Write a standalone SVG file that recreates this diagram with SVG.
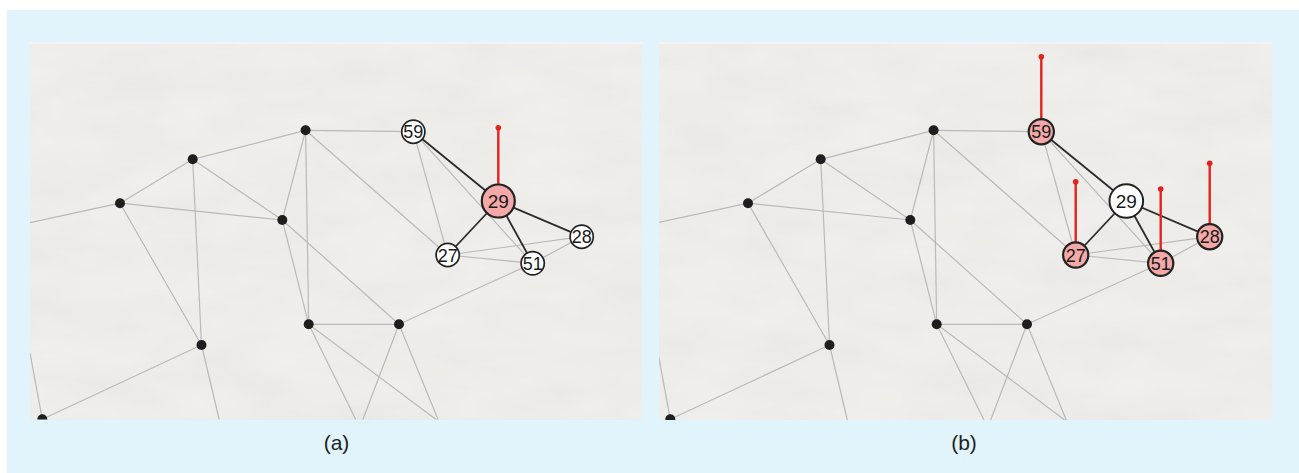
<svg xmlns="http://www.w3.org/2000/svg" width="1299" height="473" viewBox="0 0 1299 473">
<style>
.g{stroke:#b9b9b9;stroke-width:1.2;fill:none}
.k{stroke:#2a2a2a;stroke-width:1.8;fill:none}
.r{stroke:#e3231c;stroke-width:2.4;fill:none}
.rd{fill:#e3231c}
.dot{fill:#1e1e1e}
.w{fill:#ffffff;stroke:#222;stroke-width:1.7}
.p{fill:#f4a9a8;stroke:#222;stroke-width:2.2}
.bw{fill:#ffffff;stroke:#222;stroke-width:2}
.bp{fill:#f4a9a8;stroke:#222;stroke-width:2.2}
.t{font-family:"Liberation Sans",Arial,sans-serif;font-size:18px;fill:#1a1a1a;text-anchor:middle}
.tb{font-family:"Liberation Sans",Arial,sans-serif;font-size:19px;fill:#1a1a1a;text-anchor:middle}
.cap{font-family:"Liberation Sans",Arial,sans-serif;font-size:21px;fill:#222;text-anchor:middle}
.panel{fill:#f1f0ed}
</style>
<defs>
<clipPath id="clipA" clipPathUnits="userSpaceOnUse"><rect x="30" y="42.5" width="612" height="377"/></clipPath>
<clipPath id="clipB" clipPathUnits="userSpaceOnUse"><rect x="31" y="42.5" width="613" height="377.5"/></clipPath>
<filter id="paper" x="0" y="0" width="100%" height="100%">
<feTurbulence type="fractalNoise" baseFrequency="0.012 0.03" numOctaves="3" seed="4"/>
<feColorMatrix type="saturate" values="0"/>
<feComponentTransfer><feFuncA type="linear" slope="0" intercept="0.07"/></feComponentTransfer>
</filter>
</defs>
<rect x="0" y="0" width="1299" height="473" fill="#ffffff"/>
<rect x="7" y="10" width="1292" height="463" fill="#e1f3fb"/>
<g id="panel-a">
<rect class="panel" x="30" y="42.5" width="612" height="377"/>
<rect x="30" y="42.5" width="612" height="377" filter="url(#paper)"/>
<line x1="30" y1="43" x2="642" y2="43" stroke="#fbfbfb" stroke-width="1.2"/>
</g>
<g id="panel-b">
<rect class="panel" x="659" y="42.5" width="613" height="377.5"/>
<rect x="659" y="42.5" width="613" height="377.5" filter="url(#paper)"/>
<line x1="659" y1="43" x2="1272" y2="43" stroke="#fbfbfb" stroke-width="1.2"/>
</g>
<g id="connectors">
<g id="connectors-a" clip-path="url(#clipA)">
<line class="g" x1="30" y1="222.7" x2="120" y2="203.2"/>
<line class="g" x1="120" y1="203.2" x2="192.7" y2="159.3"/>
<line class="g" x1="192.7" y1="159.3" x2="305.6" y2="130.3"/>
<line class="g" x1="305.6" y1="130.3" x2="413.3" y2="131.7"/>
<line class="g" x1="120" y1="203.2" x2="282.3" y2="220"/>
<line class="g" x1="192.7" y1="159.3" x2="282.3" y2="220"/>
<line class="g" x1="192.7" y1="159.3" x2="201.5" y2="345"/>
<line class="g" x1="120" y1="203.2" x2="201.5" y2="345"/>
<line class="g" x1="305.6" y1="130.3" x2="282.3" y2="220"/>
<line class="g" x1="305.6" y1="130.3" x2="308.7" y2="324.3"/>
<line class="g" x1="305.6" y1="130.3" x2="447.7" y2="255"/>
<line class="g" x1="282.3" y1="220" x2="308.7" y2="324.3"/>
<line class="g" x1="282.3" y1="220" x2="399" y2="324.3"/>
<line class="g" x1="308.7" y1="324.3" x2="399" y2="324.3"/>
<line class="g" x1="399" y1="324.3" x2="532.7" y2="263.3"/>
<line class="g" x1="201.5" y1="345" x2="42.3" y2="419.3"/>
<line class="g" x1="201.5" y1="345" x2="219.3" y2="420"/>
<line class="g" x1="30" y1="353" x2="42.3" y2="419.3"/>
<line class="g" x1="308.7" y1="324.3" x2="356" y2="420"/>
<line class="g" x1="308.7" y1="324.3" x2="436.7" y2="420"/>
<line class="g" x1="399" y1="324.3" x2="362.7" y2="420"/>
<line class="g" x1="399" y1="324.3" x2="438.3" y2="420"/>
<line class="g" x1="413.3" y1="131.7" x2="447.7" y2="255"/>
<line class="g" x1="413.3" y1="131.7" x2="532.7" y2="263.3"/>
<line class="g" x1="447.7" y1="255" x2="581.7" y2="236.7"/>
<line class="g" x1="447.7" y1="255" x2="532.7" y2="263.3"/>
<line class="g" x1="532.7" y1="263.3" x2="581.7" y2="236.7"/>
<line class="k" x1="413.3" y1="131.7" x2="498.3" y2="201"/>
<line class="k" x1="498.3" y1="201" x2="447.7" y2="255"/>
<line class="k" x1="498.3" y1="201" x2="532.7" y2="263.3"/>
<line class="k" x1="498.3" y1="201" x2="581.7" y2="236.7"/>
<line class="r" x1="498.3" y1="201" x2="498.3" y2="127.7"/>
<circle class="rd" cx="498.3" cy="127.7" r="2.8"/>
</g>
<g id="connectors-b" transform="translate(628,0)" clip-path="url(#clipB)">
<line class="g" x1="30" y1="222.7" x2="120" y2="203.2"/>
<line class="g" x1="120" y1="203.2" x2="192.7" y2="159.3"/>
<line class="g" x1="192.7" y1="159.3" x2="305.6" y2="130.3"/>
<line class="g" x1="305.6" y1="130.3" x2="413.3" y2="131.7"/>
<line class="g" x1="120" y1="203.2" x2="282.3" y2="220"/>
<line class="g" x1="192.7" y1="159.3" x2="282.3" y2="220"/>
<line class="g" x1="192.7" y1="159.3" x2="201.5" y2="345"/>
<line class="g" x1="120" y1="203.2" x2="201.5" y2="345"/>
<line class="g" x1="305.6" y1="130.3" x2="282.3" y2="220"/>
<line class="g" x1="305.6" y1="130.3" x2="308.7" y2="324.3"/>
<line class="g" x1="305.6" y1="130.3" x2="447.7" y2="255"/>
<line class="g" x1="282.3" y1="220" x2="308.7" y2="324.3"/>
<line class="g" x1="282.3" y1="220" x2="399" y2="324.3"/>
<line class="g" x1="308.7" y1="324.3" x2="399" y2="324.3"/>
<line class="g" x1="399" y1="324.3" x2="532.7" y2="263.3"/>
<line class="g" x1="201.5" y1="345" x2="42.3" y2="419.3"/>
<line class="g" x1="201.5" y1="345" x2="219.3" y2="420"/>
<line class="g" x1="30" y1="353" x2="42.3" y2="419.3"/>
<line class="g" x1="308.7" y1="324.3" x2="356" y2="420"/>
<line class="g" x1="308.7" y1="324.3" x2="436.7" y2="420"/>
<line class="g" x1="399" y1="324.3" x2="362.7" y2="420"/>
<line class="g" x1="399" y1="324.3" x2="438.3" y2="420"/>
<line class="g" x1="413.3" y1="131.7" x2="447.7" y2="255"/>
<line class="g" x1="413.3" y1="131.7" x2="532.7" y2="263.3"/>
<line class="g" x1="447.7" y1="255" x2="581.7" y2="236.7"/>
<line class="g" x1="447.7" y1="255" x2="532.7" y2="263.3"/>
<line class="g" x1="532.7" y1="263.3" x2="581.7" y2="236.7"/>
<line class="k" x1="413.3" y1="131.7" x2="498.3" y2="201"/>
<line class="k" x1="498.3" y1="201" x2="447.7" y2="255"/>
<line class="k" x1="498.3" y1="201" x2="532.7" y2="263.3"/>
<line class="k" x1="498.3" y1="201" x2="581.7" y2="236.7"/>
<line class="r" x1="413.3" y1="131.7" x2="413.3" y2="56.7"/>
<circle class="rd" cx="413.3" cy="56.7" r="2.8"/>
<line class="r" x1="447.7" y1="255" x2="447.7" y2="181.7"/>
<circle class="rd" cx="447.7" cy="181.7" r="2.8"/>
<line class="r" x1="532.7" y1="263.3" x2="532.7" y2="189"/>
<circle class="rd" cx="532.7" cy="189" r="2.8"/>
<line class="r" x1="581.7" y1="236.7" x2="581.7" y2="163.3"/>
<circle class="rd" cx="581.7" cy="163.3" r="2.8"/>
</g>
</g>
<g id="nodes-a" clip-path="url(#clipA)">
<g id="a-d1"><circle class="dot" cx="305.6" cy="130.3" r="5"/></g>
<g id="a-d2"><circle class="dot" cx="192.7" cy="159.3" r="5"/></g>
<g id="a-d3"><circle class="dot" cx="120" cy="203.2" r="5"/></g>
<g id="a-d4"><circle class="dot" cx="282.3" cy="220" r="5"/></g>
<g id="a-d5"><circle class="dot" cx="308.7" cy="324.3" r="5"/></g>
<g id="a-d6"><circle class="dot" cx="399" cy="324.3" r="5"/></g>
<g id="a-d7"><circle class="dot" cx="201.5" cy="345" r="5"/></g>
<g id="a-d8"><circle class="dot" cx="42.3" cy="419.3" r="5"/></g>
<g id="a-n59"><circle class="w" cx="413.3" cy="131.7" r="11.6"/><text class="t" x="413.3" y="138.2">59</text></g>
<g id="a-n29"><circle class="bp" cx="498.3" cy="201" r="16.5"/><text class="tb" x="498.3" y="207.8">29</text></g>
<g id="a-n28"><circle class="w" cx="581.7" cy="236.7" r="11.6"/><text class="t" x="581.7" y="243.2">28</text></g>
<g id="a-n27"><circle class="w" cx="447.7" cy="255" r="11.6"/><text class="t" x="447.7" y="261.5">27</text></g>
<g id="a-n51"><circle class="w" cx="532.7" cy="263.3" r="11.6"/><text class="t" x="532.7" y="269.8">51</text></g>
</g>
<g id="nodes-b" transform="translate(628,0)" clip-path="url(#clipB)">
<g id="b-d1"><circle class="dot" cx="305.6" cy="130.3" r="5"/></g>
<g id="b-d2"><circle class="dot" cx="192.7" cy="159.3" r="5"/></g>
<g id="b-d3"><circle class="dot" cx="120" cy="203.2" r="5"/></g>
<g id="b-d4"><circle class="dot" cx="282.3" cy="220" r="5"/></g>
<g id="b-d5"><circle class="dot" cx="308.7" cy="324.3" r="5"/></g>
<g id="b-d6"><circle class="dot" cx="399" cy="324.3" r="5"/></g>
<g id="b-d7"><circle class="dot" cx="201.5" cy="345" r="5"/></g>
<g id="b-d8"><circle class="dot" cx="42.3" cy="419.3" r="5"/></g>
<g id="b-n59"><circle class="p" cx="413.3" cy="131.7" r="12.6"/><text class="t" x="413.3" y="138.2">59</text></g>
<g id="b-n29"><circle class="bw" cx="498.3" cy="201" r="16.8"/><text class="tb" x="498.3" y="207.8">29</text></g>
<g id="b-n28"><circle class="p" cx="581.7" cy="236.7" r="12.6"/><text class="t" x="581.7" y="243.2">28</text></g>
<g id="b-n27"><circle class="p" cx="447.7" cy="255" r="12.6"/><text class="t" x="447.7" y="261.5">27</text></g>
<g id="b-n51"><circle class="p" cx="532.7" cy="263.3" r="12.6"/><text class="t" x="532.7" y="269.8">51</text></g>
</g>
<g id="captions">
<text class="cap" x="336.5" y="450">(a)</text>
<text class="cap" x="964" y="450">(b)</text>
</g>
</svg>
